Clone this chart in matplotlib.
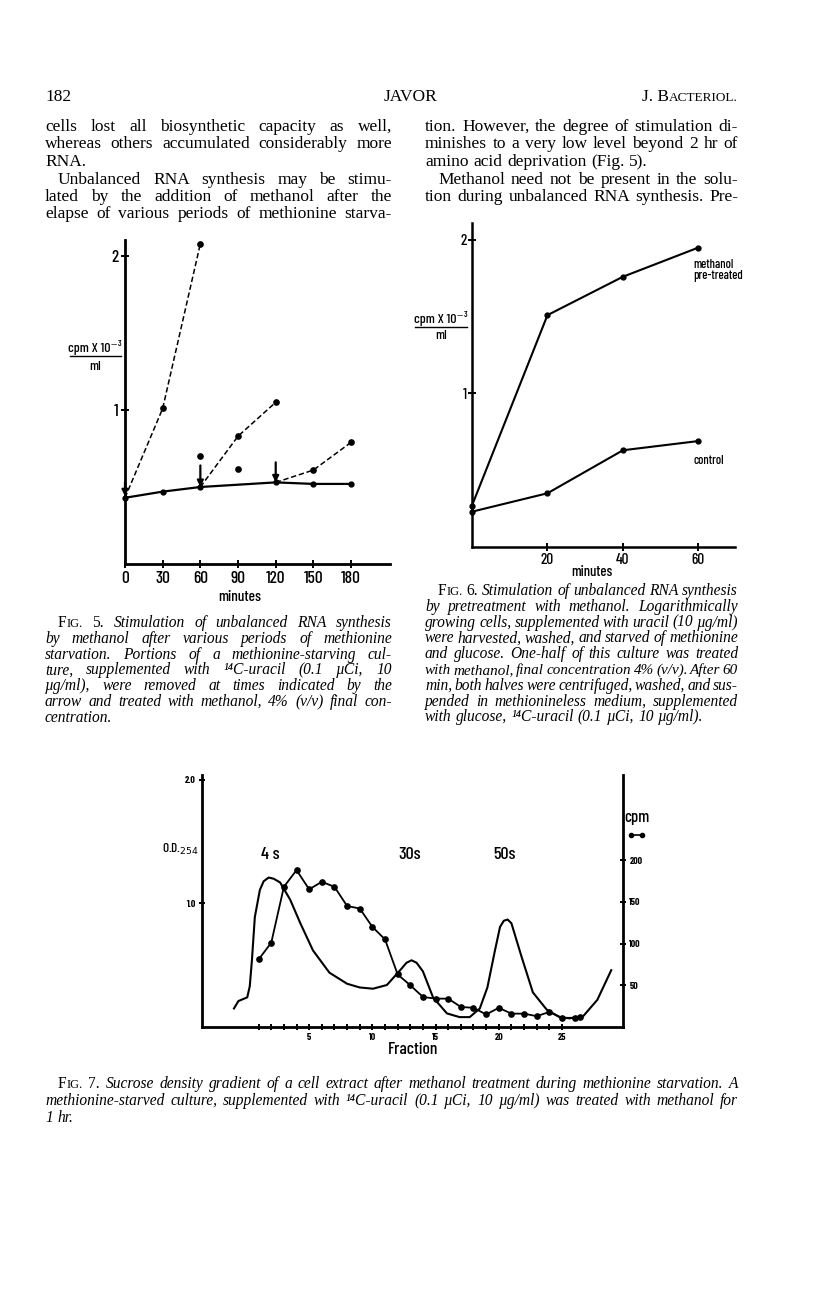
import matplotlib
matplotlib.use('Agg')
import matplotlib.pyplot as plt
from matplotlib import font_manager
from matplotlib.lines import Line2D

# ---- page text ----
HEADER = ["182", "JAVOR", "J. BACTERIOL."]

BODY_LEFT = [
    "cells lost all biosynthetic capacity as well,",
    "whereas others accumulated considerably more",
    "RNA.",
    "Unbalanced RNA synthesis may be stimu-",
    "lated by the addition of methanol after the",
    "elapse of various periods of methionine starva-",
]
BODY_RIGHT = [
    "tion. However, the degree of stimulation di-",
    "minishes to a very low level beyond 2 hr of",
    "amino acid deprivation (Fig. 5).",
    "Methanol need not be present in the solu-",
    "tion during unbalanced RNA synthesis. Pre-",
]
CAP5 = [
    "FIG. 5. Stimulation of unbalanced RNA synthesis",
    "by methanol after various periods of methionine",
    "starvation. Portions of a methionine-starving cul-",
    "ture, supplemented with ¹⁴C-uracil (0.1 µCi, 10",
    "µg/ml), were removed at times indicated by the",
    "arrow and treated with methanol, 4% (v/v) final con-",
    "centration.",
]
CAP6 = [
    "FIG. 6. Stimulation of unbalanced RNA synthesis",
    "by pretreatment with methanol. Logarithmically",
    "growing cells, supplemented with uracil (10 µg/ml)",
    "were harvested, washed, and starved of methionine",
    "and glucose. One-half of this culture was treated",
    "with methanol, final concentration 4% (v/v). After 60",
    "min, both halves were centrifuged, washed, and sus-",
    "pended in methionineless medium, supplemented",
    "with glucose, ¹⁴C-uracil (0.1 µCi, 10 µg/ml).",
]
CAP7 = [
    "FIG. 7. Sucrose density gradient of a cell extract after methanol treatment during methionine starvation. A",
    "methionine-starved culture, supplemented with ¹⁴C-uracil (0.1 µCi, 10 µg/ml) was treated with methanol for",
    "1 hr.",
]

# ---- Fig. 5 data (minutes, cpm x 10^-3 / ml) ----
f5_ctrl_t = [0, 30, 60, 120, 150, 180]
f5_ctrl_v = [0.43, 0.47, 0.50, 0.53, 0.52, 0.52]
f5_m0_t = [0, 30, 60]
f5_m0_v = [0.43, 1.01, 2.08]
f5_m60_t = [60, 90, 120]
f5_m60_v = [0.50, 0.83, 1.05]
f5_m120_t = [120, 150, 180]
f5_m120_v = [0.53, 0.61, 0.79]
f5_extra_t = [60, 90]
f5_extra_v = [0.70, 0.62]
f5_arrow_t = [0, 60, 120]
f5_arrow_top = [0.53, 0.64, 0.66]
f5_arrow_tip = [0.44, 0.50, 0.53]

# ---- Fig. 6 data ----
f6_t = [0, 20, 40, 60]
f6_meth = [0.27, 1.51, 1.76, 1.95]
f6_ctrl = [0.23, 0.35, 0.63, 0.69]

# ---- Fig. 7 data ----
f7_frac = [1, 2, 3, 4, 5, 6, 7, 8, 9, 10, 11, 12, 13, 14, 15, 16, 17, 18,
           19, 20, 21, 22, 23, 24, 25, 26, 26.4]
f7_cpm = [81, 101, 168, 188, 165, 174, 168, 145, 142, 120, 105, 63, 50, 36,
          34, 34, 24, 23, 15, 23, 16, 16, 13, 18, 11, 11, 12]
f7_od_x = [-0.95, -0.6, 0.1, 0.3, 0.47, 0.7, 1.1, 1.4, 1.8, 2.2, 2.7, 3.5,
           4.3, 5.3, 6.6, 8.0, 9.0, 10.05, 11.15, 12.2, 12.7, 13.1, 13.5,
           14.0, 14.8, 15.9, 16.9, 17.7, 18.5, 19.1, 19.7, 20.1, 20.4, 20.7,
           21.0, 21.8, 22.7, 23.8, 24.8, 25.6, 26.7, 27.8, 28.9]
f7_od_y = [0.15, 0.21, 0.24, 0.33, 0.54, 0.89, 1.11, 1.18, 1.21, 1.20, 1.17,
           1.03, 0.84, 0.62, 0.44, 0.35, 0.32, 0.31, 0.34, 0.46, 0.52, 0.54,
           0.52, 0.45, 0.24, 0.11, 0.08, 0.08, 0.15, 0.32, 0.62, 0.81, 0.86,
           0.87, 0.84, 0.57, 0.28, 0.14, 0.08, 0.07, 0.09, 0.22, 0.46]

W, H = 816, 1303


def fx(x):
    return x / W


def fy(y):
    return 1 - y / H


def pick(cands):
    names = {f.name for f in font_manager.fontManager.ttflist}
    for c in cands:
        if c in names:
            return c
    return None


SERIF = ['Liberation Serif', 'DejaVu Serif']
COND = pick(['Barlow Condensed', 'Asap Condensed'])
if COND:
    plt.rcParams['font.family'] = [COND, 'DejaVu Sans']
else:
    plt.rcParams['font.family'] = ['DejaVu Sans']
    plt.rcParams['font.stretch'] = 'condensed'
plt.rcParams['font.weight'] = 500

BODY = dict(family=SERIF, size=12.5)
CAP_IT = dict(family=SERIF, size=11.2, style='italic')
CAP_UP = dict(family=SERIF, size=11.2)
CAP_SC = dict(family=SERIF, size=9)

fig = plt.figure(figsize=(8.16, 13.03), dpi=100)
rend = fig.canvas.get_renderer()


def words_of(line, kind, first):
    out = []
    for i, w in enumerate(line.split()):
        if kind == 'cap' and first and i == 0:
            out.append([(w[0], CAP_UP), (w[1:], CAP_SC)])
        elif kind == 'cap' and first and i == 1:
            out.append([(w, CAP_UP)])
        elif kind == 'cap':
            out.append([(w, CAP_IT)])
        else:
            out.append([(w, BODY)])
    return out


def draw_line(words, x0, x1, yb, justify, size, scale=1.0):
    segs_all, widths = [], []
    for w in words:
        segs, tw = [], 0
        for txt, pr in w:
            p = dict(pr)
            p['size'] = pr['size'] * scale
            t = fig.text(0, fy(yb), txt, va='baseline', ha='left', **p)
            bw = t.get_window_extent(rend).width
            segs.append((t, bw))
            tw += bw
        segs_all.append(segs)
        widths.append(tw)
    if justify and len(words) > 1:
        gap = (x1 - x0 - sum(widths)) / (len(words) - 1)
        if gap < 2.2 and scale > 0.85:
            for segs in segs_all:
                for t, bw in segs:
                    t.remove()
            draw_line(words, x0, x1, yb, justify, size, scale * 0.985)
            return
    else:
        gap = 0.27 * size * 100 / 72
    x = x0
    for segs in segs_all:
        for t, bw in segs:
            t.set_x(fx(x))
            x += bw
        x += gap


def draw_block(lines, x0, x1, y0, dy, kind, indents, nojust):
    size = BODY['size'] if kind == 'body' else CAP_IT['size']
    for i, line in enumerate(lines):
        ind = 13 if i in indents else 0
        draw_line(words_of(line, kind, i == 0 and kind == 'cap'),
                  x0 + ind, x1, y0 + i * dy, i not in nojust, size)


# ---- header ----
fig.text(fx(45), fy(101), HEADER[0], va='baseline', ha='left', **BODY)
fig.text(fx(410), fy(101), HEADER[1], va='baseline', ha='center', **BODY)
t1 = fig.text(fx(738), fy(101), "ACTERIOL.", va='baseline', ha='right',
              family=SERIF, size=9.5)
wsc = t1.get_window_extent(rend).width
fig.text(fx(738 - wsc), fy(101), "J. B", va='baseline', ha='right', **BODY)

# ---- body text ----
left_y = [131, 148, 166, 184, 201, 218]
for i, line in enumerate(BODY_LEFT):
    draw_line(words_of(line, 'body', False), 45 + (13 if i == 3 else 0), 392,
              left_y[i], i != 2, BODY['size'])
for i, line in enumerate(BODY_RIGHT):
    draw_line(words_of(line, 'body', False), 425 + (13 if i == 3 else 0), 738,
              left_y[i], i != 2, BODY['size'])

# ---- captions ----
draw_block(CAP5, 45, 392, 627, 15.8, 'cap', {0}, {6})
draw_block(CAP6, 425, 738, 595, 15.8, 'cap', {0}, {8})
draw_block(CAP7, 45, 738, 1088, 17, 'cap', {0}, {2})

# ---- Fig. 5 ----
ax5 = fig.add_axes([fx(125), fy(564), (390 - 125) / W, (564 - 240) / H])
ax5.set_xlim(0, 211)
ax5.set_ylim(0, 2.104)
dash = (0, (3.5, 1.8))
ax5.plot(f5_ctrl_t, f5_ctrl_v, color='k', lw=1.6, marker='o', ms=3.5,
         clip_on=False, zorder=3)
for tt, vv in [(f5_m0_t, f5_m0_v), (f5_m60_t, f5_m60_v),
               (f5_m120_t, f5_m120_v)]:
    ax5.plot(tt, vv, color='k', lw=1.1, ls=dash, clip_on=False)
    ax5.plot(tt[1:], vv[1:], 'o', color='k', ms=3.8, clip_on=False)
ax5.plot(f5_extra_t, f5_extra_v, 'o', color='k', ms=3.8)
for t, a, b in zip(f5_arrow_t, f5_arrow_top, f5_arrow_tip):
    ax5.annotate('', xy=(t, b), xytext=(t, a),
                 arrowprops=dict(arrowstyle='-|>', color='k', lw=1.6,
                                 mutation_scale=9, shrinkA=0, shrinkB=0))
ax5.set_xticks([0, 30, 60, 90, 120, 150, 180])
ax5.set_xticklabels(['0', '30', '60', '90', '120', '150', '180'])
ax5.set_yticks([1, 2])
ax5.set_yticklabels(['1', '2'])
ax5.tick_params(direction='inout', length=6, width=1.4, labelsize=12.5, pad=2)
for s in ['top', 'right']:
    ax5.spines[s].set_visible(False)
for s in ['left', 'bottom']:
    ax5.spines[s].set_linewidth(2)
ax5.patch.set_alpha(0)
fig.text(fx(240), fy(601), "minutes", ha='center', va='baseline', size=11)
fig.text(fx(95), fy(352), "cpm X 10⁻³", ha='center', va='baseline', size=10)
fig.add_artist(Line2D([fx(70), fx(121)], [fy(356), fy(356)], color='k', lw=1))
fig.text(fx(95), fy(370), "ml", ha='center', va='baseline', size=10)

# ---- Fig. 6 ----
ax6 = fig.add_axes([fx(472), fy(547), (735 - 472) / W, (547 - 223) / H])
ax6.set_xlim(0, 69.7)
ax6.set_ylim(0, 2.11)
ax6.plot(f6_t, f6_meth, color='k', lw=1.5, marker='o', ms=3.5, clip_on=False)
ax6.plot(f6_t, f6_ctrl, color='k', lw=1.5, marker='o', ms=3.5, clip_on=False)
ax6.set_xticks([20, 40, 60])
ax6.set_xticklabels(['20', '40', '60'])
ax6.set_yticks([1, 2])
ax6.set_yticklabels(['1', '2'])
ax6.tick_params(direction='inout', length=6, width=1.4, labelsize=11, pad=1)
for s in ['top', 'right']:
    ax6.spines[s].set_visible(False)
for s in ['left', 'bottom']:
    ax6.spines[s].set_linewidth(1.8)
ax6.patch.set_alpha(0)
ax6.text(f6_t[-1] - 1.3, f6_meth[-1] - 0.15, "methanol\npre-treated",
         ha='left', va='center', size=9, linespacing=0.95)
ax6.text(f6_t[-1] - 1.3, f6_ctrl[-1] - 0.13, "control", ha='left',
         va='center', size=9)
fig.text(fx(592), fy(576), "minutes", ha='center', va='baseline', size=10.5)
fig.text(fx(441), fy(323), "cpm X 10⁻³", ha='center', va='baseline', size=10)
fig.add_artist(Line2D([fx(415), fx(467)], [fy(327), fy(327)], color='k', lw=1))
fig.text(fx(441), fy(339), "ml", ha='center', va='baseline', size=10)

# ---- Fig. 7 ----
ax7 = fig.add_axes([fx(202), fy(1027), (623 - 202) / W, (1027 - 775) / H])
ax7.set_xlim(-3.48, 29.83)
ax7.set_ylim(0, 2.04)
ax7.plot(f7_od_x, f7_od_y, color='k', lw=1.5, solid_joinstyle='round')
ax7b = ax7.twinx()
ax7b.set_ylim(0, 302)
ax7b.plot(f7_frac, f7_cpm, color='k', lw=1.3, marker='o', ms=3.8)
ax7.set_xticks([5, 10, 15, 20, 25])
ax7.set_xticklabels(['5', '10', '15', '20', '25'])
ax7.set_xticks([f for f in range(1, 26) if f % 5], minor=True)
ax7.set_yticks([1.0, 2.0])
ax7.set_yticklabels(['1.0', '2.0'])
ax7.tick_params(which='both', direction='inout', length=5, width=1.4,
                labelsize=7, pad=2)
for lbl in ax7.get_xticklabels() + ax7.get_yticklabels():
    lbl.set_fontweight('bold')
ax7b.set_yticks([50, 100, 150, 200])
ax7b.set_yticklabels(['50', '100', '150', '200'])
ax7b.tick_params(direction='inout', length=5, width=1.4, labelsize=7, pad=2)
for lbl in ax7b.get_yticklabels():
    lbl.set_fontweight('bold')
for a in (ax7, ax7b):
    a.spines['top'].set_visible(False)
    for s in ['left', 'bottom', 'right']:
        a.spines[s].set_linewidth(2)
ax7b.spines['left'].set_visible(False)
ax7b.spines['bottom'].set_visible(False)
ax7.spines['right'].set_visible(False)
ax7.patch.set_alpha(0)
fig.text(fx(199), fy(853), "O.D.$_{254}$", ha='right', va='baseline', size=9.5)
fig.text(fx(270), fy(859), "4 s", ha='center', va='baseline', size=13)
fig.text(fx(410), fy(859), "30s", ha='center', va='baseline', size=13)
fig.text(fx(504), fy(859), "50s", ha='center', va='baseline', size=13)
fig.text(fx(637), fy(822), "cpm", ha='center', va='baseline', size=12)
fig.add_artist(Line2D([fx(631), fx(642)], [fy(835), fy(835)], color='k',
                      lw=1.2, marker='o', ms=3))
fig.text(fx(413), fy(1054), "Fraction", ha='center', va='baseline', size=12.5)

fig.savefig('out.png', dpi=100)
